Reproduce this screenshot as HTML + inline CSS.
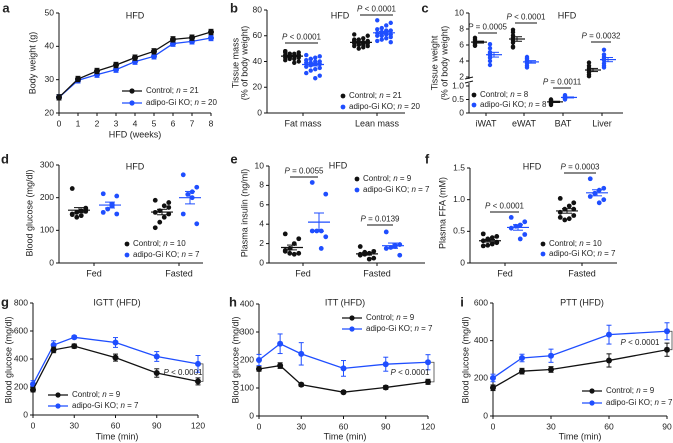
<!DOCTYPE html>
<html><head><meta charset="utf-8">
<style>
html,body{margin:0;padding:0;background:#fff;}
svg{display:block;font-family:"Liberation Sans",Arial,sans-serif;}
text{fill:#222;}
</style></head>
<body>
<svg id="fig" width="673" height="443" viewBox="0 0 673 443" xmlns="http://www.w3.org/2000/svg"></svg>
<script>
// ---------- DATA ----------
const aWeeks=[0,1,2,3,4,5,6,7,8];
const aCtrl=[24.7,30.2,32.6,34.4,36.6,38.5,42.1,42.6,44.3];
const aKO=[24.7,29.8,31.5,33.0,35.4,37.0,40.8,41.5,42.5];
const aTicksY=[20,30,40,50];

const bCats=['Fat mass','Lean mass'];
const bFatCtrl=[48,47,46,46,45,45,44,44,43,43,42,42,41,40,39,46,47,45,44,43,48];
const bFatKO=[45,44,43,42,41,40,40,39,39,38,38,37,36,35,34,33,31,29,27,42];
const bLeanCtrl=[61,60,58,57,56,56,55,55,54,54,53,53,52,52,51,50,57,55,54,53,56];
const bLeanKO=[72,70,68,66,65,64,63,62,62,61,61,60,60,59,58,57,56,55,64,63];
const bTicksY=[0,20,40,60,80];

const cCats=['iWAT','eWAT','BAT','Liver'];
const cCtrl=[[6.9,6.7,6.5,6.4,6.3,6.2,6.0,5.9],[7.9,7.6,7.2,6.9,6.6,6.3,5.8,5.7],[0.5,0.48,0.45,0.43,0.41,0.38,0.35,0.3],[3.8,3.4,3.1,2.9,2.8,2.6,2.3,2.1]];
const cKO=[[6.1,5.6,5.1,4.9,4.7,4.4,4.0,3.5],[4.5,4.3,4.1,4.0,3.9,3.7,3.4,3.2],[0.66,0.62,0.6,0.58,0.57,0.55,0.53,0.5],[5.4,4.8,4.5,4.3,4.1,3.7,3.4,3.2]];
const cTicksUpper=[2,4,6,8,10];
const cTicksLower=[0,0.5,1.0];

const dCats=['Fed','Fasted'];
const dFedCtrl=[228,168,160,155,150,165,145,140,148,158];
const dFedKO=[212,205,180,165,155,150,175];
const dFasCtrl=[192,185,175,160,155,150,140,125,108,170];
const dFasKO=[270,232,218,210,150,120,200];
const dTicksY=[0,100,200,300];

const eFedCtrl=[3.0,2.5,2.0,1.5,1.2,1.0,0.9,1.0,1.3];
const eFedKO=[8.3,7.1,3.3,3.3,3.3,2.7,1.5];
const eFasCtrl=[1.7,1.2,1.0,0.9,0.8,0.5,0.4,1.1,0.9];
const eFasKO=[3.2,1.9,1.8,1.6,1.5,0.8,1.7];
const eTicksY=[0,2,4,6,8,10];

const fFedCtrl=[0.46,0.42,0.40,0.38,0.35,0.33,0.30,0.28,0.27,0.32];
const fFedKO=[0.72,0.65,0.60,0.58,0.55,0.45,0.38];
const fFasCtrl=[1.02,0.95,0.90,0.85,0.80,0.75,0.70,0.68,0.72,0.85];
const fFasKO=[1.33,1.18,1.15,1.10,1.05,1.00,0.95];
const fTicksY=[0,0.5,1.0,1.5];

const gTime=[0,15,30,60,90,120];
const gCtrl=[180,465,492,410,300,240];
const gCtrlErr=[15,20,15,25,30,25];
const gKO=[220,500,555,518,418,365];
const gKOErr=[25,30,10,35,35,60];
const gTicksY=[0,200,400,600,800];
const gTicksX=[0,30,60,90,120];

const hTime=[0,15,30,60,90,120];
const hCtrl=[168,180,112,85,102,122];
const hCtrlErr=[8,10,6,5,7,9];
const hKO=[200,258,222,170,185,192];
const hKOErr=[20,35,40,28,25,27];
const hTicksY=[0,100,200,300,400];

const iTime=[0,15,30,60,90];
const iCtrl=[150,238,247,295,352];
const iCtrlErr=[15,15,15,35,35];
const iKO=[202,308,320,432,450];
const iKOErr=[20,20,35,50,45];
const iTicksY=[0,200,400,600];
const iTicksX=[0,30,60,90];

// ---------- HELPERS ----------
const NS='http://www.w3.org/2000/svg';
const svg=document.getElementById('fig');
const BLUE='#1f4eff', BLK='#111';
function mk(tag,attrs,name){
  const e=document.createElementNS(NS,tag);
  for(const k in attrs) e.setAttribute(k,attrs[k]);
  
  
  svg.appendChild(e);
  return e;
}
function txt(x,y,s,name,opt){
  opt=opt||{};
  const e=mk('text',{x:x,y:y,'font-size':opt.size||8.5,'text-anchor':opt.anchor||'middle','dominant-baseline':'middle'},name);
  if(opt.weight) e.setAttribute('font-weight',opt.weight);
  if(opt.rot) e.setAttribute('transform','rotate(-90 '+x+' '+y+')');
  if(opt.html) e.innerHTML=s; else e.textContent=s;
  return e;
}
function lin(d0,d1,r0,r1){return v=>r0+(v-d0)*(r1-r0)/(d1-d0);}
function line(x1,y1,x2,y2,name,col,w){return mk('line',{x1:x1,y1:y1,x2:x2,y2:y2,stroke:col||BLK,'stroke-width':w||1},name);}
function yAxis(x,y,ticks,top,bot,name,fmt){
  line(x,top,x,bot,name+'-y-axis');
  ticks.forEach(t=>{line(x-3,y(t),x,y(t),name+'-y-tick');txt(x-5,y(t),fmt?fmt(t):String(t),name+'-y-tick-label',{anchor:'end'});});
}
function xAxisCat(x0,x1,yb,pos,labels,name){
  line(x0,yb,x1,yb,name+'-x-axis');
  pos.forEach((p,i)=>{line(p,yb,p,yb+3,name+'-x-tick');txt(p,yb+11,labels[i],name+'-x-tick-label',{size:9});});
}
function xAxisNum(x0,x1,yb,xs,ticks,name){
  line(x0,yb,x1,yb,name+'-x-axis');
  ticks.forEach(t=>{line(xs(t),yb,xs(t),yb+3,name+'-x-tick');txt(xs(t),yb+11,String(t),name+'-x-tick-label');});
}
function mean(a){return a.reduce((s,v)=>s+v,0)/a.length;}
function sem(a){const m=mean(a);return Math.sqrt(a.reduce((s,v)=>s+(v-m)*(v-m),0)/(a.length-1))/Math.sqrt(a.length);}
function scatter(cx,vals,y,col,spread,name,r){
  const per=Math.max(3,Math.round(spread/2.5));
  vals.forEach((v,i)=>{
    const off=((i*3)%per-(per-1)/2)*(2*spread/(per));
    mk('circle',{cx:cx+off,cy:y(v),r:r||2.2,fill:col},name+'-point');
  });
  const m=mean(vals),s=sem(vals);
  line(cx-spread-2,y(m),cx+spread+2,y(m),name+'-mean',col,1.2);
  line(cx,y(m-s),cx,y(m+s),name+'-sem',col,1);
  line(cx-5,y(m-s),cx+5,y(m-s),name+'-sem-cap',col,1);
  line(cx-5,y(m+s),cx+5,y(m+s),name+'-sem-cap',col,1);
}
function pval(x0,x1,yl,label,name){
  line(x0,yl,x1,yl,name+'-line');
  txt((x0+x1)/2,yl-5.5,label,name+'-label',{size:8,html:true});
}
function series(xs,ys,X,Y,err,col,name){
  let d='';xs.forEach((x,i)=>{d+=(i?'L':'M')+X(x)+' '+Y(ys[i]);});
  mk('path',{d:d,fill:'none',stroke:col,'stroke-width':1.3},name+'-line');
  xs.forEach((x,i)=>{
    if(err){line(X(x),Y(ys[i]-err[i]),X(x),Y(ys[i]+err[i]),name+'-err',col,1);
      line(X(x)-2.5,Y(ys[i]-err[i]),X(x)+2.5,Y(ys[i]-err[i]),name+'-err-cap',col,1);
      line(X(x)-2.5,Y(ys[i]+err[i]),X(x)+2.5,Y(ys[i]+err[i]),name+'-err-cap',col,1);}
    mk('circle',{cx:X(x),cy:Y(ys[i]),r:err?3:2.3,fill:col},name+'-point');
  });
}
function legLine(x,y,col,label,name){
  line(x,y,x+20,y,name+'-swatch',col,1.3);
  mk('circle',{cx:x+10,cy:y,r:2.6,fill:col},name+'-marker');
  txt(x+24,y,label,name+'-label',{size:8,anchor:'start',html:true});
}
function legDot(x,y,col,label,name){
  mk('circle',{cx:x,cy:y,r:2.4,fill:col},name+'-marker');
  txt(x+6,y,label,name+'-label',{size:8,anchor:'start',html:true});
}
const I='<tspan font-style="italic">n</tspan>', P='<tspan font-style="italic">P</tspan>';

// ---------- PANEL LETTERS ----------
[['a',6,9],['b',234,9],['c',425,9],['d',5,160],['e',234,160],['f',427,160],['g',5,303],['h',233,303],['i',462,303]].forEach(l=>txt(l[1],l[2],l[0],'panel-letter-'+l[0],{size:13,weight:'bold'}));

// ---------- A ----------
{const X=lin(0,8,59,211),Y=lin(20,50,113,13);
yAxis(59,Y,aTicksY,13,113,'a');xAxisNum(59,211,113,X,aWeeks,'a');
txt(135,16,'HFD','a-title',{size:9});
txt(33,63,'Body weight (g)','a-y-title',{size:9,rot:1});
txt(135,135,'HFD (weeks)','a-x-title',{size:9});
const eA=aWeeks.map(()=>0.8);
series(aWeeks,aKO,X,Y,eA,BLUE,'a-ko');series(aWeeks,aCtrl,X,Y,eA,BLK,'a-ctrl');
legLine(122,91,BLK,'Control; '+I+' = 21','a-legend-control');
legLine(122,103,BLUE,'adipo-Gi KO; '+I+' = 20','a-legend-ko');}

// ---------- B ----------
{const Y=lin(0,80,113,10);
yAxis(267,Y,bTicksY,10,113,'b');xAxisCat(267,405,113,[303,377],bCats,'b');
txt(340,16,'HFD','b-title',{size:9});
txt(236,63,'Tissue mass','b-y-title',{size:9,rot:1});txt(245,63,'(% of body weight)','b-y-title-2',{size:9,rot:1});
scatter(292,bFatCtrl,Y,BLK,9,'b-fat-ctrl');scatter(313,bFatKO,Y,BLUE,9,'b-fat-ko');
scatter(361,bLeanCtrl,Y,BLK,9,'b-lean-ctrl');scatter(384,bLeanKO,Y,BLUE,9,'b-lean-ko');
pval(285,318,43,P+' &lt; 0.0001','b-pval-fat');pval(360,393,15,P+' &lt; 0.0001','b-pval-lean');
legDot(343,96,BLK,'Control; '+I+' = 21','b-legend-control');legDot(343,107,BLUE,'adipo-Gi KO; '+I+' = 20','b-legend-ko');}

// ---------- C ----------
{const YU=lin(2,10,77,13),YL=lin(0,1,113,86);
const Yc=v=>v>=1.5?YU(v):YL(v);
line(469,13,469,79,'c-y-axis-upper');line(469,83,469,113,'c-y-axis-lower');
line(465,79,473,77,'c-axis-break');line(465,83,473,81,'c-axis-break');
cTicksUpper.forEach(t=>{line(466,YU(t),469,YU(t),'c-y-tick');txt(464,YU(t),String(t),'c-y-tick-label',{anchor:'end'});});
cTicksLower.forEach(t=>{line(466,YL(t),469,YL(t),'c-y-tick');txt(464,YL(t),t===0?'0':t.toFixed(1),'c-y-tick-label',{anchor:'end'});});
xAxisCat(469,623,113,[486,524,563,602],cCats,'c');
txt(567,16,'HFD','c-title',{size:9});
txt(435,63,'Tissue weight','c-y-title',{size:9,rot:1});txt(445,63,'(% of body weight)','c-y-title-2',{size:9,rot:1});
const cc=[[479,494],[517,531],[555,569],[593,608]];
cCats.forEach((c,i)=>{scatter(cc[i][0],cCtrl[i],Yc,BLK,6,'c-'+c+'-ctrl');scatter(cc[i][1],cKO[i],Yc,BLUE,6,'c-'+c+'-ko');});
pval(478,497,33,P+' = 0.0005','c-pval-iwat');pval(515,537,23,P+' &lt; 0.0001','c-pval-ewat');
pval(553,571,88,P+' = 0.0011','c-pval-bat');pval(591,611,42,P+' = 0.0032','c-pval-liver');
legDot(474,95,BLK,'Control; '+I+' = 8','c-legend-control');legDot(474,105,BLUE,'adipo-Gi KO; '+I+' = 8','c-legend-ko');}

// ---------- D ----------
{const Y=lin(0,300,263,165);
yAxis(59,Y,dTicksY,165,263,'d');xAxisCat(59,203,263,[94,179],dCats,'d');
txt(135,167,'HFD','d-title',{size:9});
txt(30,213,'Blood glucose (mg/dl)','d-y-title',{size:9,rot:1});
scatter(79,dFedCtrl,Y,BLK,9,'d-fed-ctrl',2.4);scatter(110,dFedKO,Y,BLUE,9,'d-fed-ko',2.4);
scatter(162,dFasCtrl,Y,BLK,9,'d-fasted-ctrl',2.4);scatter(190,dFasKO,Y,BLUE,9,'d-fasted-ko',2.4);
legDot(127,244,BLK,'Control; '+I+' = 10','d-legend-control');legDot(127,255,BLUE,'adipo-Gi KO; '+I+' = 7','d-legend-ko');}

// ---------- E ----------
{const Y=lin(0,10,263,166);
yAxis(269,Y,eTicksY,166,263,'e');xAxisCat(269,425,263,[303,377],dCats,'e');
txt(338,166,'HFD','e-title',{size:9});
txt(245,213,'Plasma insulin (ng/ml)','e-y-title',{size:9,rot:1});
scatter(292,eFedCtrl,Y,BLK,9,'e-fed-ctrl',2.4);scatter(319,eFedKO,Y,BLUE,9,'e-fed-ko',2.4);
scatter(367,eFasCtrl,Y,BLK,9,'e-fasted-ctrl',2.4);scatter(393,eFasKO,Y,BLUE,9,'e-fasted-ko',2.4);
pval(290,318,177,P+' = 0.0055','e-pval-fed');pval(367,393,225,P+' = 0.0139','e-pval-fasted');
legDot(357,179,BLK,'Control; '+I+' = 9','e-legend-control');legDot(357,190,BLUE,'adipo-Gi KO; '+I+' = 7','e-legend-ko');}

// ---------- F ----------
{const Y=lin(0,1.5,263,168);
yAxis(470,Y,fTicksY,168,263,'f',t=>t===0?'0':t.toFixed(1));xAxisCat(470,617,263,[505,582],dCats,'f');
txt(532,167,'HFD','f-title',{size:9});
txt(443,213,'Plasma FFA (mM)','f-y-title',{size:9,rot:1});
scatter(490,fFedCtrl,Y,BLK,9,'f-fed-ctrl',2.4);scatter(518,fFedKO,Y,BLUE,9,'f-fed-ko',2.4);
scatter(567,fFasCtrl,Y,BLK,9,'f-fasted-ctrl',2.4);scatter(597,fFasKO,Y,BLUE,9,'f-fasted-ko',2.4);
pval(490,519,212,P+' &lt; 0.0001','f-pval-fed');pval(564,596,173,P+' = 0.0003','f-pval-fasted');
legDot(543,244,BLK,'Control; '+I+' = 10','f-legend-control');legDot(543,254,BLUE,'adipo-Gi KO; '+I+' = 7','f-legend-ko');}

// ---------- G ----------
{const X=lin(0,120,33,198),Y=lin(0,800,415,303);
yAxis(33,Y,gTicksY,303,415,'g');xAxisNum(33,198,415,X,gTicksX,'g');
txt(117,303,'IGTT (HFD)','g-title',{size:9});
txt(9,360,'Blood glucose (mg/dl)','g-y-title',{size:9,rot:1});
txt(117,437,'Time (min)','g-x-title',{size:9});
series(gTime,gKO,X,Y,gKOErr,BLUE,'g-ko');series(gTime,gCtrl,X,Y,gCtrlErr,BLK,'g-ctrl');
mk('path',{d:'M200 '+Y(gKO[5])+'H203V'+Y(gCtrl[5])+'H200',fill:'none',stroke:'#444','stroke-width':0.8},'g-pval-bracket');
txt(183,373,P+' &lt; 0.0001','g-pval-label',{size:8,html:true});
legLine(48,395,BLK,'Control; '+I+' = 9','g-legend-control');legLine(48,406,BLUE,'adipo-Gi KO; '+I+' = 7','g-legend-ko');}

// ---------- H ----------
{const X=lin(0,120,259,428),Y=lin(0,400,416,304);
yAxis(259,Y,hTicksY,304,416,'h');xAxisNum(259,428,416,X,gTicksX,'h');
txt(345,303,'ITT (HFD)','h-title',{size:9});
txt(236,360,'Blood glucose (mg/dl)','h-y-title',{size:9,rot:1});
txt(345,437,'Time (min)','h-x-title',{size:9});
series(hTime,hKO,X,Y,hKOErr,BLUE,'h-ko');series(hTime,hCtrl,X,Y,hCtrlErr,BLK,'h-ctrl');
mk('path',{d:'M431 '+Y(hKO[5])+'H434V'+Y(hCtrl[5])+'H431',fill:'none',stroke:'#444','stroke-width':0.8},'h-pval-bracket');
txt(410,373,P+' &lt; 0.0001','h-pval-label',{size:8,html:true});
legLine(342,318,BLK,'Control; '+I+' = 9','h-legend-control');legLine(342,329,BLUE,'adipo-Gi KO; '+I+' = 7','h-legend-ko');}

// ---------- I ----------
{const X=lin(0,90,493,667),Y=lin(0,600,416,303);
yAxis(493,Y,iTicksY,303,416,'i');xAxisNum(493,667,416,X,iTicksX,'i');
txt(582,303,'PTT (HFD)','i-title',{size:9});
txt(466,360,'Blood glucose (mg/dl)','i-y-title',{size:9,rot:1});
txt(580,437,'Time (min)','i-x-title',{size:9});
series(iTime,iKO,X,Y,iKOErr,BLUE,'i-ko');series(iTime,iCtrl,X,Y,iCtrlErr,BLK,'i-ctrl');
mk('path',{d:'M669 '+Y(iKO[4])+'H672V'+Y(iCtrl[4])+'H669',fill:'none',stroke:'#444','stroke-width':0.8},'i-pval-bracket');
txt(640,343,P+' &lt; 0.0001','i-pval-label',{size:8,html:true});
legLine(582,391,BLK,'Control; '+I+' = 9','i-legend-control');legLine(582,403,BLUE,'adipo-Gi KO; '+I+' = 7','i-legend-ko');}
</script>
</body></html>
